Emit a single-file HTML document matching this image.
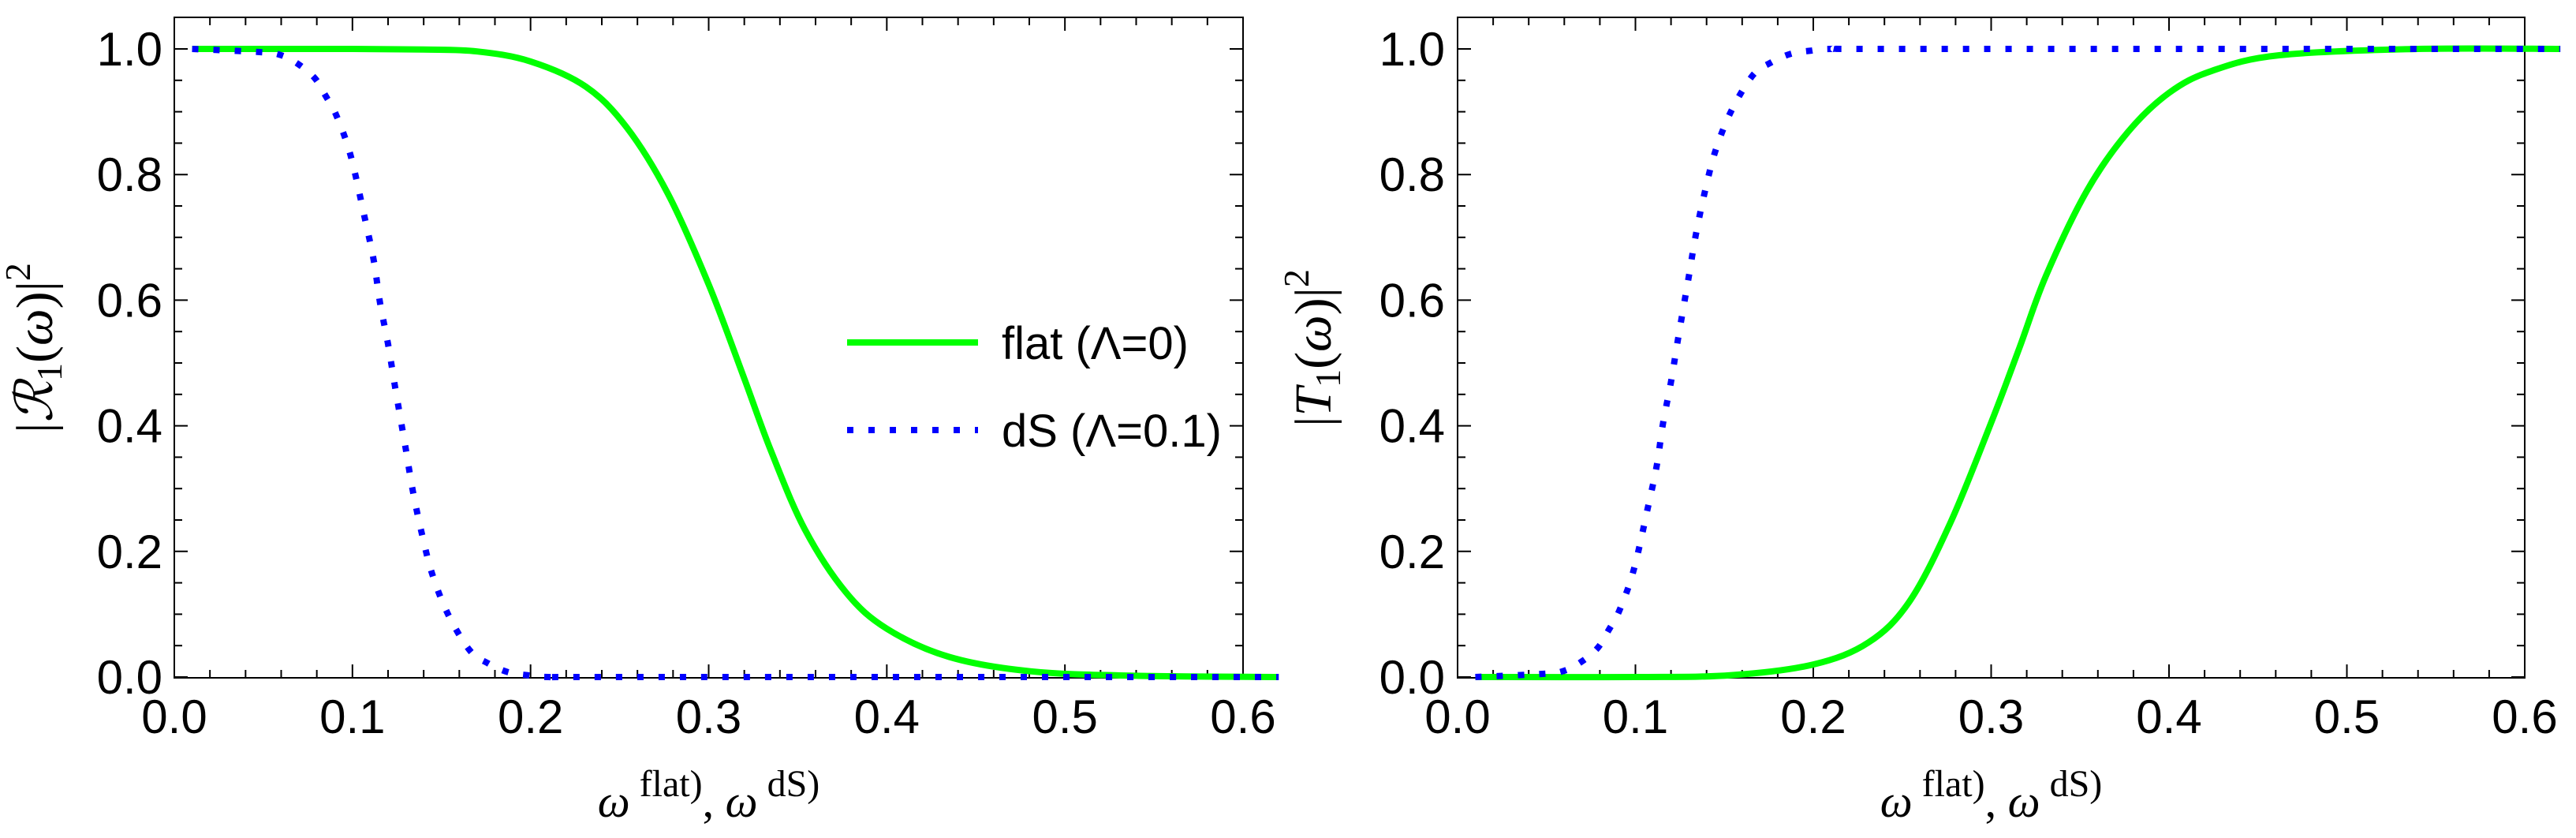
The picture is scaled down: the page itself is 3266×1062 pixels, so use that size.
<!DOCTYPE html>
<html><head><meta charset="utf-8"><style>
html,body{margin:0;padding:0;background:#fff;}
svg{display:block;}
</style></head><body>
<svg id="chart" width="3266" height="1062" viewBox="0 0 3266 1062" xmlns="http://www.w3.org/2000/svg"></svg>
<script>
// ---- data ----
const xTicks = [0.0, 0.1, 0.2, 0.3, 0.4, 0.5, 0.6];
const xTickLabels = ["0.0", "0.1", "0.2", "0.3", "0.4", "0.5", "0.6"];
const yTicks = [0.0, 0.2, 0.4, 0.6, 0.8, 1.0];
const yTickLabels = ["0.0", "0.2", "0.4", "0.6", "0.8", "1.0"];
const seriesNames = ["flat (\u039B=0)", "dS (\u039B=0.1)"];

const rFlatW = [0.01, 0.05, 0.10, 0.14, 0.17, 0.20, 0.231, 0.254, 0.277, 0.300, 0.320, 0.335, 0.354, 0.377, 0.400, 0.435, 0.481, 0.540, 0.62];
const rFlatV = [1.0, 1.0, 1.0, 0.999, 0.996, 0.98, 0.94, 0.875, 0.77, 0.625, 0.475, 0.36, 0.235, 0.135, 0.077, 0.032, 0.009, 0.002, 0.0];
const rDsW = [0.01, 0.048, 0.06, 0.07, 0.079, 0.085, 0.091, 0.099, 0.107, 0.112, 0.1155, 0.12, 0.124, 0.13, 0.134, 0.139, 0.145, 0.154, 0.166, 0.176, 0.187, 0.198, 0.21, 0.25, 0.62];
const rDsV = [1.0, 0.995, 0.99, 0.975, 0.953, 0.925, 0.894, 0.83, 0.73, 0.663, 0.596, 0.53, 0.461, 0.362, 0.295, 0.228, 0.162, 0.098, 0.042, 0.022, 0.008, 0.003, 0.0, 0.0, 0.0];
const tFlatW = [0.01, 0.10, 0.154, 0.20, 0.231, 0.254, 0.277, 0.300, 0.316, 0.331, 0.354, 0.377, 0.400, 0.424, 0.462, 0.540, 0.62];
const tFlatV = [0.0, 0.0, 0.003, 0.02, 0.055, 0.12, 0.245, 0.405, 0.525, 0.64, 0.775, 0.868, 0.93, 0.965, 0.99, 1.0, 1.0];
const tDsW = [0.01, 0.048, 0.06, 0.07, 0.079, 0.085, 0.091, 0.099, 0.107, 0.112, 0.1155, 0.12, 0.124, 0.13, 0.134, 0.139, 0.145, 0.154, 0.166, 0.176, 0.187, 0.198, 0.21, 0.25, 0.62];
const tDsV = [0.0, 0.005, 0.01, 0.025, 0.047, 0.075, 0.106, 0.17, 0.27, 0.337, 0.404, 0.47, 0.539, 0.638, 0.705, 0.772, 0.838, 0.902, 0.958, 0.978, 0.992, 0.997, 1.0, 1.0, 1.0];

const NS = "http://www.w3.org/2000/svg";
const svg = document.getElementById('chart');
function mk(tag, attrs, parent) {
  const e = document.createElementNS(NS, tag);
  for (const k in attrs) e.setAttribute(k, attrs[k]);
  (parent || svg).appendChild(e);
  return e;
}
const TOP = 22, BOT = 859;
function yScale(v) { return 858 - v * 796; }

function smoothPath(pts) {
  let d = "M" + pts[0][0].toFixed(1) + "," + pts[0][1].toFixed(1);
  for (let i = 0; i < pts.length - 1; i++) {
    const p0 = pts[Math.max(0, i - 1)], p1 = pts[i], p2 = pts[i + 1], p3 = pts[Math.min(pts.length - 1, i + 2)];
    const t = 1 / 6;
    const c1x = p1[0] + (p2[0] - p0[0]) * t, c1y = p1[1] + (p2[1] - p0[1]) * t;
    const c2x = p2[0] - (p3[0] - p1[0]) * t, c2y = p2[1] - (p3[1] - p1[1]) * t;
    d += " C" + c1x.toFixed(1) + "," + c1y.toFixed(1) + " " + c2x.toFixed(1) + "," + c2y.toFixed(1) + " " + p2[0].toFixed(1) + "," + p2[1].toFixed(1);
  }
  return d;
}

function panel(name, L, R, greenW, greenV, blueW, blueV, labelRight, titleX, titleMain, legend) {
  const g = mk('g', {});
  
  
  const xScale = v => L + v * (R - L) / 0.6;
  const frame = mk('rect', {x: L, y: TOP, width: R - L, height: BOT - TOP, fill: 'none', stroke: '#000', 'stroke-width': 2}, g);
  
  
  for (let v = 0; v <= 0.6001; v += 0.02) {
    const major = Math.abs(v * 10 - Math.round(v * 10)) < 1e-6;
    const len = major ? 17 : 10;
    const x = xScale(v);
    const t1 = mk('line', {x1: x, y1: BOT, x2: x, y2: BOT - len, stroke: '#000', 'stroke-width': 2}, g);
    
    
    const t2 = mk('line', {x1: x, y1: TOP, x2: x, y2: TOP + len, stroke: '#000', 'stroke-width': 2}, g);
    
    
  }
  for (let v = 0; v <= 1.0001; v += 0.05) {
    const major = Math.abs(v * 5 - Math.round(v * 5)) < 1e-6;
    const len = major ? 17 : 10;
    const y = yScale(v);
    const t1 = mk('line', {x1: L, y1: y, x2: L + len, y2: y, stroke: '#000', 'stroke-width': 2}, g);
    
    
    const t2 = mk('line', {x1: R, y1: y, x2: R - len, y2: y, stroke: '#000', 'stroke-width': 2}, g);
    
    
  }
  xTicks.forEach((v, i) => {
    const t = mk('text', {x: xScale(v), y: 929, 'text-anchor': 'middle', 'font-family': 'Liberation Sans, sans-serif', 'font-size': 60}, g);
    t.textContent = xTickLabels[i];
    
    
  });
  yTicks.forEach((v, i) => {
    const t = mk('text', {x: labelRight, y: yScale(v) + 21, 'text-anchor': 'end', 'font-family': 'Liberation Sans, sans-serif', 'font-size': 60}, g);
    t.textContent = yTickLabels[i];
    
    
  });
  const gp = mk('path', {d: smoothPath(greenW.map((w, i) => [xScale(w), yScale(greenV[i])])), fill: 'none', stroke: '#00ff00', 'stroke-width': 8, 'stroke-linejoin': 'round'}, g);
  
  
  const bp = mk('path', {d: smoothPath(blueW.map((w, i) => [xScale(w), yScale(blueV[i])])), fill: 'none', stroke: '#0000ff', 'stroke-width': 8, 'stroke-dasharray': '8 19'}, g);
  
  
  const yt = mk('text', {x: 0, y: 0, transform: 'translate(' + (titleX + 22) + ',441) rotate(-90)', 'text-anchor': 'middle', 'font-family': 'Liberation Serif, DejaVu Serif, serif', 'font-size': 66}, g);
  
  
  yt.innerHTML = '|<tspan font-style="italic">' + titleMain + '</tspan><tspan font-size="46" dy="12">1</tspan><tspan dy="-12">(</tspan><tspan font-style="italic">\u03C9</tspan>)|<tspan font-size="46" dy="-28">2</tspan>';
  const xt = mk('text', {x: (L + R) / 2, y: 1035, 'text-anchor': 'middle', 'font-family': 'Liberation Serif, DejaVu Serif, serif', 'font-size': 58}, g);
  
  
  xt.innerHTML = '<tspan font-style="italic">\u03C9</tspan><tspan font-size="48" dy="-26"> flat)</tspan><tspan dy="26">, </tspan><tspan font-style="italic">\u03C9</tspan><tspan font-size="48" dy="-26"> dS)</tspan>';
  if (legend) {
    const lg = mk('g', {}, g);
    
    
    const l1 = mk('line', {x1: 1074, y1: 434, x2: 1240, y2: 434, stroke: '#00ff00', 'stroke-width': 8}, lg);
    
    
    const l2 = mk('line', {x1: 1074, y1: 545, x2: 1240, y2: 545, stroke: '#0000ff', 'stroke-width': 8, 'stroke-dasharray': '8 19'}, lg);
    
    
    const t1 = mk('text', {x: 1270, y: 455, 'font-family': 'Liberation Sans, sans-serif', 'font-size': 58}, lg);
    t1.textContent = seriesNames[0];
    
    
    const t2 = mk('text', {x: 1270, y: 566, 'font-family': 'Liberation Sans, sans-serif', 'font-size': 58}, lg);
    t2.textContent = seriesNames[1];
    
    
  }
}
panel('reflection-panel', 221, 1576, rFlatW, rFlatV, rDsW, rDsV, 206, 44, '\u211B', true);
panel('transmission-panel', 1848, 3201, tFlatW, tFlatV, tDsW, tDsV, 1832, 1665, 'T', false);
</script>
</body></html>
